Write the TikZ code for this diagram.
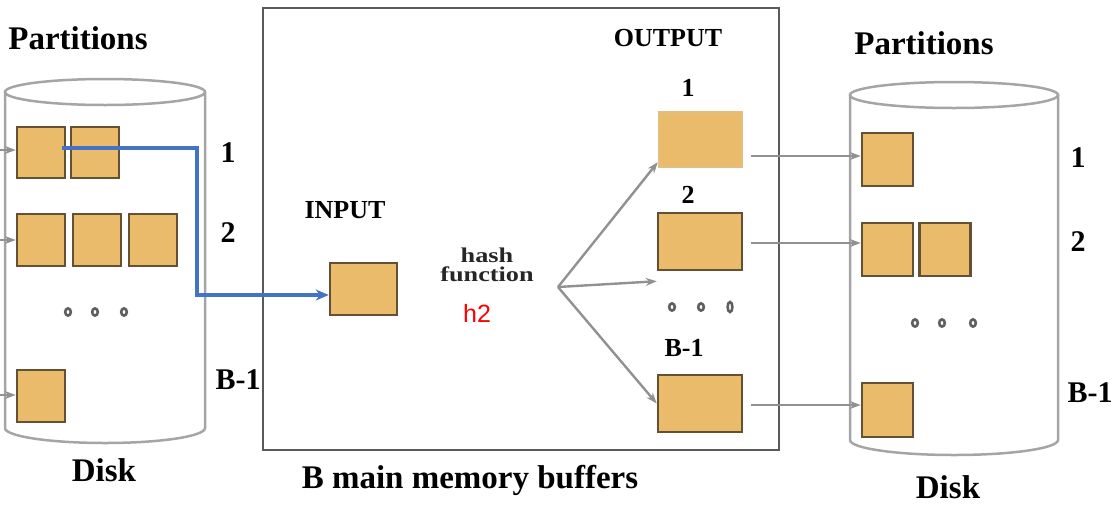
\documentclass[tikz,border=0pt]{standalone}
\usepackage{fontspec}
\setmainfont{Liberation Serif}
\newfontfamily\hashfont[FakeStretch=1.25]{Liberation Serif}
\newfontfamily\redsans{Liberation Sans}
\usetikzlibrary{arrows.meta}
\newcommand\myfs[1]{\fontsize{#1}{#1}\selectfont}
\definecolor{boxfill}{RGB}{235,187,108}
\definecolor{boxdraw}{RGB}{100,80,50}
\definecolor{boxlight}{RGB}{225,190,130}
\definecolor{cylgray}{RGB}{165,165,165}
\definecolor{arrgray}{RGB}{145,145,145}
\definecolor{framegray}{RGB}{90,90,90}
\definecolor{blueline}{RGB}{68,114,196}
\definecolor{dotgray}{RGB}{95,95,95}
\begin{document}
\begin{tikzpicture}[x=1pt,y=-1pt,
  blk/.style={draw=boxdraw, fill=boxfill, line width=2.5pt, inner sep=0pt, minimum width=48pt, minimum height=51pt},
  lbl/.style={font=\bfseries\myfs{30}, inner sep=0pt, text=black},
  big/.style={font=\bfseries\myfs{33}, inner sep=0pt, text=black},
  mid/.style={font=\bfseries\myfs{26}, inner sep=0pt, text=black},
  cyl/.style={draw=cylgray, line width=2.5pt},
  garrow/.style={draw=arrgray, line width=2.4pt, -{Stealth[length=11pt,width=8pt]}},
  dotm/.style={draw=dotgray, line width=2.6pt},
  hashtxt/.style={inner sep=0pt, font=\hashfont\bfseries\myfs{21}, text=black!85}
]
\useasboundingbox (0,0) rectangle (1115,504);

% ---------------- left disk ----------------
\draw[cyl] (105,92) ellipse [x radius=100, y radius=13];
\draw[cyl] (5,92) -- (5,428) arc[start angle=180, end angle=0, x radius=100, y radius=15] -- (205,92);
\node[big] (lpart) at (78,38) {Partitions};
\node[big] (ldisk) at (104,470) {Disk};

\node[blk] (lb11) at (41,152.5) {};
\node[blk] (lb12) at (95,152.5) {};
\node[blk, minimum height=52pt] (lb21) at (41,240) {};
\node[blk, minimum height=52pt] (lb22) at (97,240) {};
\node[blk, minimum height=52pt] (lb23) at (153,240) {};
\node[blk, minimum height=52pt] (lb31) at (41,396) {};

\node[lbl] (l1) at (228,153) {1};
\node[lbl] (l2) at (228,233) {2};
\node[lbl] (l3) at (238,380) {B-1};

\foreach \x in {68,95,124} \draw[dotm] (\x,312) ellipse [x radius=2.8, y radius=3.6];

\coordinate (ls1) at (0,150);
\coordinate (ls2) at (0,240);
\coordinate (ls3) at (0,395);
\draw[garrow] (ls1) -- (ls1 -| lb11.west);
\draw[garrow] (ls2) -- (ls2 -| lb21.west);
\draw[garrow] (ls3) -- (ls3 -| lb31.west);

% ---------------- memory ----------------
\draw[draw=framegray, line width=2.6pt] (263,8) rectangle (779,450);
\node[big] (mem) at (470,480) {B main memory buffers};

\node[mid] (inlbl) at (345,210) {INPUT};
\node[blk, minimum width=67pt, minimum height=52pt] (inb) at (363.5,289) {};

\node[hashtxt, anchor=base] (hash1) at (487,262) {hash};
\node[hashtxt, anchor=base] (hash2) at (487,281) {function};
\node[inner sep=0pt, font=\redsans\myfs{25}, text=red] (h2) at (477,313) {h2};

\node[mid] (outlbl) at (668,38) {OUTPUT};
\node[mid] (o1) at (688,88) {1};
\node[mid] (o2) at (688,195) {2};
\node[mid] (o3) at (684,348) {B-1};

\node[blk, draw=boxlight, minimum width=83pt, minimum height=55pt] (ob1) at (700.5,139.5) {};
\node[blk, minimum width=84pt, minimum height=57pt] (ob2) at (700,241.5) {};
\node[blk, minimum width=84pt, minimum height=57pt] (ob3) at (700,403.5) {};

\foreach \x in {672,701} \draw[dotm] (\x,307) ellipse [x radius=2.8, y radius=3.6];
\draw[dotm] (730,307) ellipse [x radius=2.4, y radius=5];

\coordinate (fan) at (558,287);
\draw[garrow] (fan) -- ([yshift=6pt]ob1.south west);
\draw[garrow] (fan) -- ([yshift=-10pt]ob2.south west);
\draw[garrow] (fan) -- (ob3.west);

% blue route
\coordinate (bs) at (62,148);
\coordinate (bc1) at (197,148);
\coordinate (bc2) at (197,295);
\draw[draw=blueline, line width=3.6pt, -{Stealth[length=13pt,width=11pt]}] (bs) -- (bc1) -- (bc2) -- (bc2 -| inb.west);

% ---------------- right disk ----------------
\draw[cyl] (954,95) ellipse [x radius=104, y radius=13];
\draw[cyl] (850,95) -- (850,440) arc[start angle=180, end angle=0, x radius=104, y radius=15] -- (1058,95);
\node[big] (rpart) at (924,43) {Partitions};
\node[big] (rdisk) at (948,487) {Disk};

\node[blk, minimum width=51pt, minimum height=53pt] (rb11) at (887.5,159.5) {};
\node[blk, minimum width=51pt, minimum height=53pt] (rb21) at (887.5,249.5) {};
\node[blk, minimum width=51pt, minimum height=53pt] (rb22) at (945,249.5) {};
\node[blk, minimum width=51pt, minimum height=54pt] (rb31) at (887.5,410) {};

\node[lbl] (r1) at (1078,158) {1};
\node[lbl] (r2) at (1078,242) {2};
\node[lbl] (r3) at (1090,393) {B-1};

\foreach \x in {915,942,973} \draw[dotm] (\x,323) ellipse [x radius=2.8, y radius=3.6];

\draw[garrow] ([xshift=8pt]ob1.east |- 0,156) -- (rb11.west |- 0,156);
\draw[garrow] ([xshift=8pt]ob2.east |- 0,243) -- (rb21.west |- 0,243);
\draw[garrow] ([xshift=8pt]ob3.east |- 0,405) -- (rb31.west |- 0,405);
\end{tikzpicture}
\end{document}
